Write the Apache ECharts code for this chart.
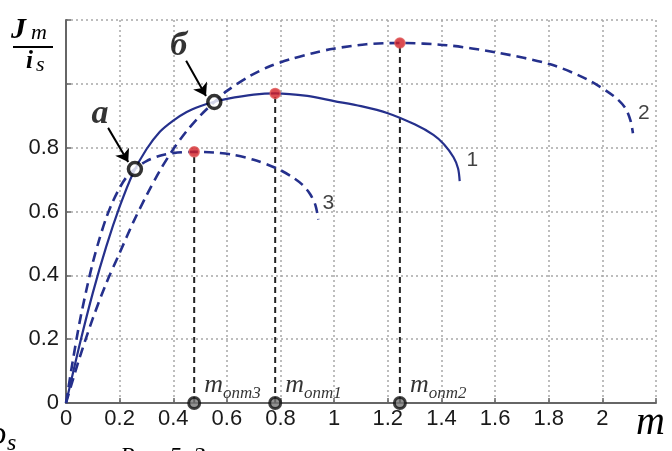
<!DOCTYPE html>
<html><head><meta charset="utf-8">
<script src="https://cdn.jsdelivr.net/npm/echarts@6/dist/echarts.min.js"></script>
<style>html,body{margin:0;padding:0;background:#fff}#c{width:672px;height:451px}</style>
</head><body><div id="c"></div>
<script>
// Curve 1 (solid)
const c1X = [0, 0.05, 0.1, 0.15, 0.2, 0.25, 0.3, 0.35, 0.4, 0.45, 0.5, 0.55, 0.6, 0.7, 0.78, 0.9, 1.0, 1.1, 1.2, 1.3, 1.37, 1.41, 1.445, 1.462, 1.468];
const c1Y = [0, 0.18, 0.345, 0.49, 0.615, 0.72, 0.795, 0.85, 0.885, 0.912, 0.93, 0.943, 0.953, 0.966, 0.970, 0.962, 0.946, 0.930, 0.908, 0.873, 0.840, 0.810, 0.770, 0.735, 0.695];
// Curve 2 (dashed)
const c2X = [0, 0.05, 0.1, 0.15, 0.2, 0.25, 0.3, 0.35, 0.4, 0.45, 0.5, 0.553, 0.6, 0.687, 0.76, 0.836, 0.92, 0.997, 1.12, 1.245, 1.42, 1.607, 1.806, 1.943, 2.042, 2.085, 2.105, 2.114];
const c2Y = [0, 0.14, 0.265, 0.375, 0.47, 0.565, 0.65, 0.728, 0.795, 0.852, 0.90, 0.943, 0.978, 1.025, 1.055, 1.077, 1.096, 1.11, 1.124, 1.128, 1.121, 1.098, 1.061, 1.014, 0.962, 0.925, 0.885, 0.845];
// Curve 3 (dashed)
const c3X = [0, 0.025, 0.05, 0.075, 0.1, 0.125, 0.15, 0.175, 0.2, 0.225, 0.257, 0.3, 0.35, 0.4, 0.478, 0.55, 0.62, 0.7, 0.786, 0.84, 0.88, 0.91, 0.93, 0.941];
const c3Y = [0, 0.13, 0.25, 0.35, 0.44, 0.515, 0.58, 0.632, 0.674, 0.707, 0.733, 0.758, 0.775, 0.783, 0.787, 0.785, 0.778, 0.762, 0.735, 0.71, 0.685, 0.655, 0.62, 0.575];
// optimum points (red) and their m values
const optX = [0.478, 0.78, 1.245];
const optY = [0.787, 0.970, 1.128];
const optNames = ['onm3', 'onm1', 'onm2'];
// intersection points a, б
const ptX = [0.257, 0.553];
const ptY = [0.733, 0.943];
const ptNames = ['a', 'б'];
// annotation label positions and arrow starts/ends (data units)
const ptLabelX = [0.127, 0.420];
const ptLabelY = [0.905, 1.118];
const arrowFromX = [0.157, 0.448];
const arrowFromY = [0.862, 1.072];
const arrowToX = [0.232, 0.522];
const arrowToY = [0.755, 0.962];
// curve labels
const curveNames = ['1', '2', '3'];
const curveLabelX = [1.515, 2.155, 0.978];
const curveLabelY = [0.762, 0.909, 0.627];
// axis ticks
const xTicks = [0, 0.2, 0.4, 0.6, 0.8, 1, 1.2, 1.4, 1.6, 1.8, 2];
const yTicks = [0, 0.2, 0.4, 0.6, 0.8];

const zip = (a, b) => a.map((v, i) => [v, b[i]]);
const blue = '#25308c';
const serif = '"Liberation Serif","DejaVu Serif",serif';

const chart = echarts.init(document.getElementById('c'), null, {renderer: 'canvas'});
const series = [];
series.push({type: 'line', data: zip(c1X, c1Y), smooth: 0.3, symbol: 'none',
  lineStyle: {color: blue, width: 2.2}, z: 3});
series.push({type: 'line', data: zip(c2X, c2Y), smooth: 0.3, symbol: 'none',
  lineStyle: {color: blue, width: 2.6, type: [10, 6]}, z: 3});
series.push({type: 'line', data: zip(c3X, c3Y), smooth: 0.3, symbol: 'none',
  lineStyle: {color: blue, width: 2.6, type: [10, 6]}, z: 3});
optX.forEach((x, i) => {
  series.push({type: 'line', data: [[x, 0], [x, optY[i]]], symbol: 'none',
    lineStyle: {color: '#222', width: 2, type: [6, 4]}, z: 2});
});
// red optimum markers
series.push({type: 'scatter', data: zip(optX, optY), symbol: 'circle', symbolSize: 10,
  itemStyle: {color: '#d21f26', borderColor: '#e05a5a', borderWidth: 1.5}, z: 5});
// m_onm markers on axis
series.push({type: 'scatter', data: optX.map((x, i) => ({value: [x, 0], name: optNames[i]})),
  symbol: 'circle', symbolSize: 11, clip: false,
  itemStyle: {color: '#777', borderColor: '#111', borderWidth: 3}, z: 6,
  label: {show: true, position: 'right', offset: [-2, -16],
    formatter: p => '{m|m}{s|' + p.name + '}',
    rich: {m: {fontFamily: serif, fontStyle: 'italic', fontSize: 26, color: '#000', padding: [0, 0, 4, 0]},
           s: {fontFamily: serif, fontStyle: 'italic', fontSize: 17, color: '#000', verticalAlign: 'bottom', padding: [10, 0, 0, 0]}}}});
// arrows
series.push({type: 'lines', coordinateSystem: 'cartesian2d', z: 6,
  data: arrowFromX.map((x, i) => ({coords: [[x, arrowFromY[i]], [arrowToX[i], arrowToY[i]]]})),
  symbol: ['none', 'arrow'], symbolSize: 12,
  lineStyle: {color: '#000', width: 2, opacity: 1}});
// ring points a, б
series.push({type: 'scatter', data: zip(ptX, ptY), symbol: 'circle', symbolSize: 13,
  itemStyle: {color: '#fff', borderColor: '#000', borderWidth: 3.5}, z: 7});
// a, б labels
series.push({type: 'scatter', data: ptLabelX.map((x, i) => ({value: [x, ptLabelY[i]], name: ptNames[i]})),
  symbolSize: 0, z: 7, clip: false,
  label: {show: true, position: 'inside', formatter: p => p.name,
    fontFamily: serif, fontStyle: 'italic', fontWeight: 'bold', fontSize: 34, color: '#000'}});
// curve number labels
series.push({type: 'scatter', data: curveLabelX.map((x, i) => ({value: [x, curveLabelY[i]], name: curveNames[i]})),
  symbolSize: 0, z: 7, clip: false,
  label: {show: true, position: 'inside', formatter: p => p.name,
    fontFamily: '"Liberation Sans",Arial,sans-serif', fontSize: 21, color: '#111'}});

chart.setOption({
  animation: false,
  backgroundColor: '#fff',
  grid: {left: 66, right: 16, top: 20, bottom: 48},
  xAxis: {type: 'value', min: 0, max: 2.2, interval: 0.2,
    axisLine: {show: true, onZero: false, lineStyle: {color: '#666', width: 2}},
    axisTick: {show: true, inside: true, length: 5, lineStyle: {color: '#666', width: 1.5}},
    axisLabel: {margin: 5, color: '#1a1a1a', fontSize: 22, fontFamily: '"Liberation Sans",Arial,sans-serif',
      formatter: v => { const t = xTicks.find(x => Math.abs(x - v) < 1e-6); return t === undefined ? '' : String(t); }},
    splitLine: {show: true, lineStyle: {color: '#a8a8a8', width: 1.5, type: [2, 3]}}},
  yAxis: {type: 'value', min: 0, max: 1.2, interval: 0.2,
    axisLine: {show: true, lineStyle: {color: '#666', width: 2}},
    axisTick: {show: true, inside: true, length: 5, lineStyle: {color: '#666', width: 1.5}},
    axisLabel: {margin: 7, color: '#1a1a1a', fontSize: 22, fontFamily: '"Liberation Sans",Arial,sans-serif',
      formatter: v => { const t = yTicks.find(y => Math.abs(y - v) < 1e-6); return t === undefined ? '' : String(t); }},
    splitLine: {show: true, lineStyle: {color: '#a8a8a8', width: 1.5, type: [2, 3]}}},
  series: series,
  graphic: [
    {type: 'text', left: 11, top: 15, style: {text: 'J', font: 'italic bold 30px ' + serif, fill: '#000'}},
    {type: 'text', left: 31, top: 22, style: {text: 'm', font: 'italic 22px ' + serif, fill: '#000'}},
    {type: 'rect', shape: {x: 13, y: 46, width: 40, height: 2}, style: {fill: '#000'}},
    {type: 'text', left: 26, top: 49, style: {text: 'i', font: 'italic bold 25px ' + serif, fill: '#000'}},
    {type: 'text', left: 36, top: 54, style: {text: 's', font: 'italic 22px ' + serif, fill: '#000'}},
    {type: 'text', left: 636, top: 403, style: {text: 'm', font: 'italic 40px ' + serif, fill: '#000'}},
    {type: 'text', left: -10, top: 418, style: {text: 'ρ', font: 'italic 34px ' + serif, fill: '#000'}},
    {type: 'text', left: 7, top: 432, style: {text: 's', font: 'italic 24px ' + serif, fill: '#000'}},
    {type: 'text', left: 120, top: 445, style: {text: 'Рис. 5. Зависимости', font: 'italic 24px ' + serif, fill: '#000'}}
  ]
});
</script></body></html>
